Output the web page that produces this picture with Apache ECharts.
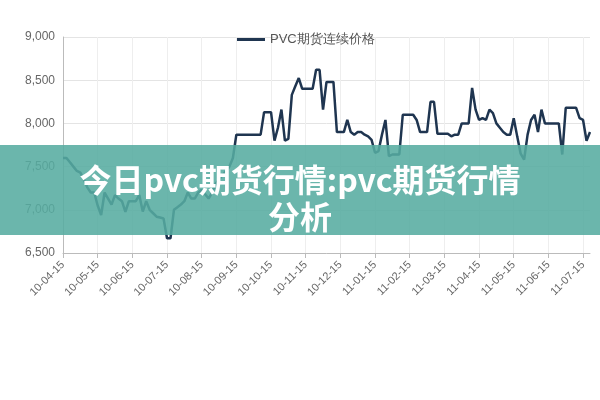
<!DOCTYPE html>
<html>
<head>
<meta charset="utf-8">
<script src="https://cdn.jsdelivr.net/npm/echarts@6/dist/echarts.min.js"></script>
<style>html,body{margin:0;padding:0;background:#fff;}#main{width:600px;height:400px;}</style>
</head>
<body>
<div id="main"></div>
<script>
// 月份刻度标签（每10个点一个）
var monthLabels = ['10-04-15','10-05-15','10-06-15','10-07-15','10-08-15','10-09-15','10-10-15','10-11-15',
    '10-12-15','11-01-15','11-02-15','11-03-15','11-04-15','11-05-15','11-06-15','11-07-15'];
var prices = [7600,7600,7550,7500,7450,7430,7350,7260,7200,7200,
    7050,6940,7200,7130,7060,7170,7130,7100,6975,7100,
    7100,7100,7170,6980,7100,7000,6960,6920,6910,6900,
    6670,6670,7000,7030,7060,7100,7200,7130,7130,7200,
    7230,7180,7130,7200,7300,7350,7400,7450,7500,7600,
    7870,7870,7870,7870,7870,7870,7870,7870,8130,8130,
    8130,7800,7950,8160,7800,7820,8330,8430,8525,8400,
    8400,8400,8400,8620,8620,8160,8480,8480,8480,7900,
    7900,7900,8040,7900,7870,7900,7900,7870,7850,7810,
    7660,7680,7870,8040,7620,7640,7640,7640,8100,8100,
    8100,8100,8040,7900,7900,7900,8250,8250,7880,7880,
    7880,7880,7850,7870,7870,8000,8000,8000,8410,8160,
    8040,8060,8040,8160,8120,8000,7950,7900,7870,7870,
    8060,7850,7650,7580,7870,8040,8100,7900,8160,8000,
    8000,8000,8000,8000,7640,8180,8180,8180,8180,8060,
    8040,7800,7900];

var categories = prices.map(function (v, i) {
    return i % 10 === 0 ? (monthLabels[i / 10] || '') : '';
});

var chart = echarts.init(document.getElementById('main'));
var option = {
    animation: false,
    grid: { left: 63, right: 10, top: 37, bottom: 147 },
    legend: {
        top: 28, left: 232,
        itemWidth: 28, itemHeight: 3,
        icon: 'rect',
        textStyle: { color: '#555', fontSize: 13 },
        data: ['PVC期货连续价格']
    },
    xAxis: {
        type: 'category',
        boundaryGap: false,
        data: categories,
        axisLine: { lineStyle: { color: '#bbb' } },
        axisTick: { interval: 9, alignWithLabel: true, lineStyle: { color: '#bbb' } },
        axisLabel: { interval: 9, rotate: 45, color: '#666', fontSize: 11, margin: 10 },
        splitLine: { show: true, interval: 9, lineStyle: { color: '#eee' } }
    },
    yAxis: {
        type: 'value',
        min: 6500, max: 9000, interval: 500,
        axisLine: { show: true, lineStyle: { color: '#bbb' } },
        axisLabel: {
            color: '#666', fontSize: 12,
            formatter: function (v) { return v.toLocaleString('en-US'); }
        },
        splitLine: { lineStyle: { color: '#e4e4e4' } }
    },
    series: [{
        name: 'PVC期货连续价格',
        type: 'line',
        data: prices,
        symbol: 'none',
        lineStyle: { color: '#1f3550', width: 2.5 },
        itemStyle: { color: '#1f3550' }
    }],
    graphic: [{
        type: 'rect', left: 0, top: 145, z: 100,
        shape: { width: 600, height: 90 },
        style: { fill: 'rgba(86,172,160,0.88)' }
    }, {
        type: 'text', left: 'center', top: 161, z: 101,
        style: {
            text: '今日pvc期货行情:pvc期货行情\n分析',
            fill: '#fff', font: 'bold 32px "Noto Sans CJK SC"',
            textAlign: 'center', lineHeight: 37
        }
    }]
};
chart.setOption(option);
</script>
</body>
</html>
